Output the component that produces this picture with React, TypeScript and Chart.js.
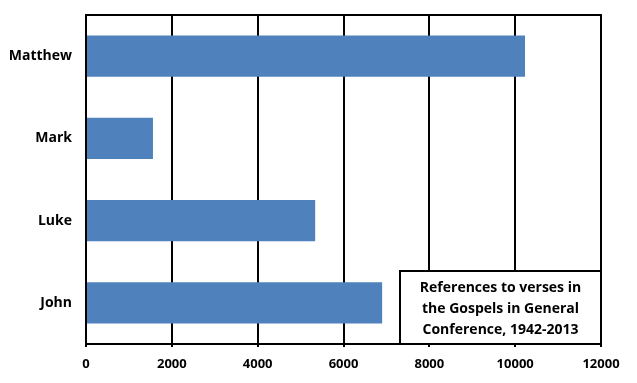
import React, { useEffect, useRef } from "react";
import { Chart, registerables } from "chart.js";

Chart.register(...registerables);

const categories = ["Matthew", "Mark", "Luke", "John"];
const references = [10230, 1560, 5340, 6900];
const xMin = 0;
const xMax = 12000;
const xStep = 2000;
const boxLines = ["References to verses in", "the Gospels in General", "Conference, 1942-2013"];

const FONT = "'Open Sans', Lato, sans-serif";

const frame = {
  id: "frame",
  afterDatasetsDraw(chart: any) {
    const { ctx, chartArea } = chart;
    ctx.save();
    ctx.strokeStyle = "#000";
    ctx.lineWidth = 2;
    ctx.beginPath();
    ctx.moveTo(chartArea.left - 1, chartArea.top);
    ctx.lineTo(chartArea.right + 1, chartArea.top);
    ctx.stroke();
    ctx.restore();
  },
};

const noteBox = {
  id: "noteBox",
  afterDraw(chart: any) {
    const { ctx, chartArea } = chart;
    const right = chartArea.right;
    const bottom = chartArea.bottom;
    const w = 201;
    const h = 73;
    const left = right - w;
    const top = bottom - h;
    ctx.save();
    ctx.fillStyle = "#fff";
    ctx.fillRect(left, top, w, h);
    ctx.strokeStyle = "#000";
    ctx.lineWidth = 2;
    ctx.strokeRect(left, top, w, h);
    ctx.fillStyle = "#000";
    ctx.font = `bold 14px ${FONT}`;
    ctx.textAlign = "center";
    ctx.textBaseline = "middle";
    boxLines.forEach((line, i) => {
      ctx.fillText(line, left + w / 2, top + 17 + i * 21);
    });
    ctx.restore();
  },
};

export default function App() {
  const ref = useRef<HTMLCanvasElement>(null);
  useEffect(() => {
    if (!ref.current) return;
    const chart = new Chart(ref.current, {
      type: "bar",
      data: {
        labels: categories,
        datasets: [
          {
            data: references,
            backgroundColor: "#4F81BD",
            borderWidth: 0,
            barPercentage: 1,
            categoryPercentage: 0.5,
          },
        ],
      },
      options: {
        indexAxis: "y",
        responsive: false,
        animation: false,
        layout: { padding: { left: 0, top: 15, right: 36, bottom: 0 } },
        plugins: { legend: { display: false }, tooltip: { enabled: false } },
        scales: {
          x: {
            min: xMin,
            max: xMax,
            ticks: {
              stepSize: xStep,
              color: "#000",
              font: { family: FONT, size: 13, weight: "bold" },
              padding: 9,
              maxRotation: 0,
              callback: (v: any) => String(v),
            },
            grid: { color: "#000", lineWidth: 2, tickLength: 3 },
            border: { color: "#000", width: 2 },
            afterFit(scale: any) {
              scale.height = 39;
              scale.paddingLeft = 0;
              scale.paddingRight = 0;
            },
          },
          y: {
            ticks: {
              color: "#000",
              font: { family: FONT, size: 14, weight: "bold" },
              padding: 14,
            },
            grid: { display: false, drawTicks: false },
            border: { color: "#000", width: 2 },
            afterFit(scale: any) {
              scale.width = 86;
              scale.paddingTop = 0;
              scale.paddingBottom = 0;
            },
          },
        },
      },
      plugins: [frame, noteBox],
    } as any);
    return () => chart.destroy();
  }, []);
  return (
    <div style={{ position: "fixed", left: 0, top: 0, width: 637, height: 383, background: "#fff" }}>
      <canvas ref={ref} width={637} height={383} />
    </div>
  );
}
